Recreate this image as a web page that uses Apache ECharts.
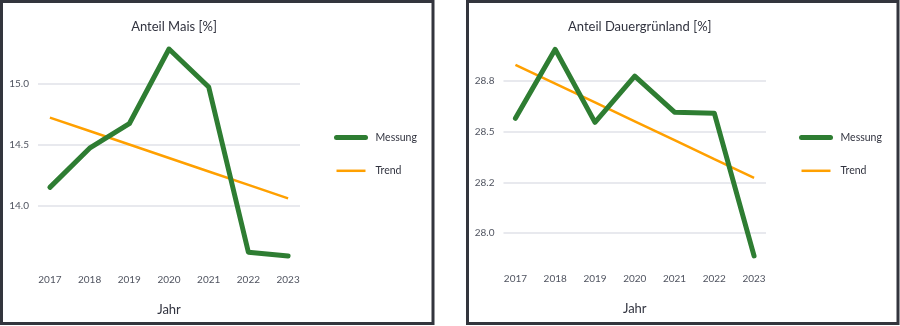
<!DOCTYPE html>
<html><head><meta charset="utf-8">
<script src="https://cdn.jsdelivr.net/npm/echarts@6/dist/echarts.min.js"></script>
<style>html,body{margin:0;padding:0;background:#fff}#c{width:900px;height:326px}</style>
</head><body><div id="c"></div>
<script>
const years = [2017, 2018, 2019, 2020, 2021, 2022, 2023];
const maisMessung = [14.15, 14.47, 14.67, 15.28, 14.97, 13.62, 13.59];
const maisTrend = [14.72, 14.61, 14.50, 14.39, 14.28, 14.17, 14.06];
const gruenMessung = [28.565, 28.904, 28.545, 28.772, 28.595, 28.59, 27.888];
const gruenTrend = [28.828, 28.736, 28.643, 28.550, 28.457, 28.364, 28.272];
const maisTicks = [14.0, 14.5, 15.0];
const maisTickLabels = ['14.0', '14.5', '15.0'];
const gruenTicks = [28.0, 28.25, 28.5, 28.75];
const gruenTickLabels = ['28.0', '28.2', '28.5', '28.8'];
const titles = ['Anteil Mais [%]', 'Anteil Dauergrünland [%]'];
const xName = 'Jahr';
const legendNames = ['Messung', 'Trend'];

const FONT = 'Lato';
const GREEN = '#2e7d32';
const ORANGE = '#ffa000';
const TXT = '#31333f';

const pairs = (vals) => years.map((y, i) => [y, vals[i]]);
function labelFor(ticks, labels) {
  return (v) => { const i = ticks.findIndex(t => Math.abs(t - v) < 1e-6); return i >= 0 ? labels[i] : ''; };
}

const grids = [
  {left: 38, width: 262, top: 46.6, height: 214.2},
  {left: 503.5, width: 262.5, top: 46.1, height: 213.5}
];
const yRanges = [[13.55, 15.3], [27.87, 28.92]];
const tickSets = [[maisTicks, maisTickLabels], [gruenTicks, gruenTickLabels]];
const legendLines = [
  {color: GREEN, width: 5, cap: 'round'},
  {color: ORANGE, width: 2.5, cap: 'butt'}
];

const option = {
  animation: false,
  backgroundColor: '#fff',
  textStyle: {fontFamily: FONT},
  title: titles.map((t, i) => ({
    text: t, left: grids[i].left + grids[i].width / 2, top: 15, textAlign: 'center',
    textStyle: {fontFamily: FONT, fontSize: 13, fontWeight: 'normal', color: TXT}
  })),
  grid: grids,
  xAxis: grids.map((g, i) => ({
    type: 'value', gridIndex: i, min: 2016.7, max: 2023.3,
    name: xName, nameLocation: 'middle', nameGap: 43,
    nameTextStyle: {fontFamily: FONT, fontSize: 13, color: TXT},
    axisLine: {show: false}, axisTick: {show: false, customValues: years},
    splitLine: {show: false},
    axisLabel: {customValues: years, formatter: (v) => String(v), fontFamily: FONT, fontSize: 10, color: '#505460', margin: 14}
  })),
  yAxis: grids.map((g, i) => ({
    type: 'value', gridIndex: i, min: yRanges[i][0], max: yRanges[i][1],
    axisLine: {show: false},
    axisTick: {show: false, customValues: tickSets[i][0]},
    axisLabel: {customValues: tickSets[i][0], formatter: labelFor(tickSets[i][0], tickSets[i][1]), fontFamily: FONT, fontSize: 10, color: '#505460', margin: 9},
    splitLine: {show: true, lineStyle: {color: '#e8e9ee', width: 2}}
  })),
  legend: [0, 1].map(i => ({
    orient: 'vertical', left: i === 0 ? 334 : 799, top: 132, padding: 0,
    itemWidth: 29, itemHeight: 14, itemGap: 22,
    itemStyle: {opacity: 0},
    data: legendNames.map((n, k) => ({name: n + (i ? ' ' : ''), lineStyle: legendLines[k], itemStyle: {opacity: 0}})),
    textStyle: {fontFamily: FONT, fontSize: 10.5, color: TXT, padding: [0, 0, 0, 5]},
    selectedMode: false
  })),
  series: [
    {name: 'Messung', type: 'line', xAxisIndex: 0, yAxisIndex: 0, data: pairs(maisMessung), showSymbol: false, symbol: 'none', lineStyle: {color: GREEN, width: 5, cap: 'round', join: 'round'}, itemStyle: {color: GREEN}, z: 3},
    {name: 'Trend', type: 'line', xAxisIndex: 0, yAxisIndex: 0, data: pairs(maisTrend), showSymbol: false, symbol: 'none', lineStyle: {color: ORANGE, width: 2.5}, itemStyle: {color: ORANGE}, z: 2},
    {name: 'Messung ', type: 'line', xAxisIndex: 1, yAxisIndex: 1, data: pairs(gruenMessung), showSymbol: false, symbol: 'none', lineStyle: {color: GREEN, width: 5, cap: 'round', join: 'round'}, itemStyle: {color: GREEN}, z: 3},
    {name: 'Trend ', type: 'line', xAxisIndex: 1, yAxisIndex: 1, data: pairs(gruenTrend), showSymbol: false, symbol: 'none', lineStyle: {color: ORANGE, width: 2.5}, itemStyle: {color: ORANGE}, z: 2}
  ],
  graphic: [
    {type: 'rect', shape: {x: 1.5, y: 1.5, width: 431.5, height: 322}, style: {fill: null, stroke: '#33353d', lineWidth: 3}, silent: true},
    {type: 'rect', shape: {x: 467.5, y: 1.5, width: 430.5, height: 322}, style: {fill: null, stroke: '#33353d', lineWidth: 3}, silent: true}
  ]
};
const chart = echarts.init(document.getElementById('c'), null, {renderer: 'canvas'});
chart.setOption(option);
</script></body></html>
